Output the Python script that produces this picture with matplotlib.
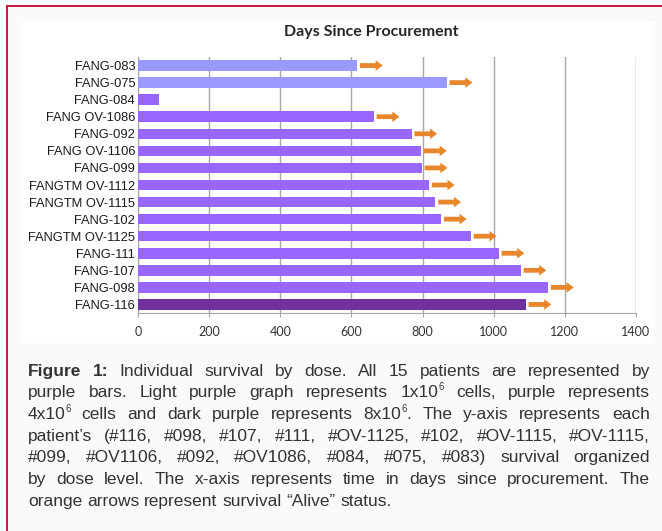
import matplotlib.pyplot as plt
from matplotlib.patches import Rectangle, FancyArrow
from matplotlib.lines import Line2D

# data, top row first
patients = ['FANG-083', 'FANG-075', 'FANG-084', 'FANG OV-1086', 'FANG-092',
            'FANG OV-1106', 'FANG-099', 'FANGTM OV-1112', 'FANGTM OV-1115',
            'FANG-102', 'FANGTM OV-1125', 'FANG-111', 'FANG-107', 'FANG-098',
            'FANG-116']
days = [616, 868, 58, 663, 769, 796, 798, 818, 836, 852, 936, 1014, 1076, 1153, 1090]
dose = ['1x', '1x', '4x', '4x', '4x', '4x', '4x', '4x', '4x', '4x', '4x', '4x',
        '4x', '4x', '8x']
alive = [True, True, False, True, True, True, True, True, True, True, True,
         True, True, True, True]
xticks = [0, 200, 400, 600, 800, 1000, 1200, 1400]

dose_colors = {'1x': '#9999FF', '4x': '#9966FF', '8x': '#7030A0'}

W, H = 662, 531
fig = plt.figure(figsize=(W / 100, H / 100), dpi=100)
fig.patch.set_facecolor('white')


def fx(px):
    return px / W


def fy(py):
    return 1 - py / H


# page frame and white chart panel
fig.add_artist(Rectangle((fx(7), 0), 1 - fx(7), fy(6), transform=fig.transFigure,
                         facecolor='#FCF9FA', edgecolor='none', zorder=-3))
fig.add_artist(Rectangle((fx(21), fy(343)), fx(655) - fx(21), fy(22) - fy(343),
                         transform=fig.transFigure, facecolor='white',
                         edgecolor='none', zorder=-2))
fig.add_artist(Line2D([fx(7), 1], [fy(6), fy(6)], transform=fig.transFigure,
                      color='#C8173C', lw=1.4))
fig.add_artist(Line2D([fx(7), fx(7)], [0, fy(6)], transform=fig.transFigure,
                      color='#C8173C', lw=1.4))

ax = fig.add_axes([fx(138), fy(313), fx(636) - fx(138), fy(57) - fy(313)])
ax.set_facecolor('none')
n = len(patients)
ypos = [n - 1 - i for i in range(n)]
ax.barh(ypos, days, height=0.62, color=[dose_colors[d] for d in dose], zorder=3)

for y, d, a in zip(ypos, days, alive):
    if a:
        ax.add_patch(FancyArrow(d + 8, y, 64, 0, width=0.28, head_width=0.62,
                                head_length=20, length_includes_head=True,
                                color='#E8862C', ec='none', zorder=4))

ax.set_xlim(0, 1400)
ax.set_ylim(-0.5, n - 0.5)
ax.set_xticks(xticks)
ax.set_yticks(ypos)
ax.set_yticklabels(patients, fontsize=9.3, family='Liberation Sans', color='#1a1a1a')
ax.set_xticklabels([str(t) for t in xticks], fontsize=9, family='Lato', color='#333333')
ax.grid(axis='x', color='#A6A6A6', lw=1, zorder=1)
ax.tick_params(axis='y', length=0, pad=2)
ax.tick_params(axis='x', length=3, color='#A6A6A6', pad=6)
for s in ['top', 'right']:
    ax.spines[s].set_visible(False)
ax.spines['left'].set_color('#A6A6A6')
ax.spines['bottom'].set_color('#A6A6A6')

fig.text(fx(371), fy(32), 'Days Since Procurement', ha='center', va='center',
         fontsize=11.5, fontweight='bold', family='Lato', color='#262626')

# caption, justified line by line
cap_font = ['Liberation Sans Narrow', 'Liberation Sans', 'DejaVu Sans']
cap_size = 12.5
cap_color = '#333333'
left, right = 28, 650
baselines = [376, 397, 419, 441, 462, 484, 506]
caption_lines = [
    [[('Figure', 'bold')], [('1:', 'bold')], 'Individual', 'survival', 'by', 'dose.',
     'All', '15', 'patients', 'are', 'represented', 'by'],
    ['purple', 'bars.', 'Light', 'purple', 'graph', 'represents',
     [('1x10', 'n'), ('6', 'sup')], 'cells,', 'purple', 'represents'],
    [[('4x10', 'n'), ('6', 'sup')], 'cells', 'and', 'dark', 'purple', 'represents',
     [('8x10', 'n'), ('6', 'sup'), ('.', 'n')], 'The', 'y-axis', 'represents', 'each'],
    ['patient\u2019s', '(#116,', '#098,', '#107,', '#111,', '#OV-1125,', '#102,',
     '#OV-1115,', '#OV-1115,'],
    ['#099,', '#OV1106,', '#092,', '#OV1086,', '#084,', '#075,', '#083)', 'survival',
     'organized'],
    ['by', 'dose', 'level.', 'The', 'x-axis', 'represents', 'time', 'in', 'days',
     'since', 'procurement.', 'The'],
    ['orange', 'arrows', 'represent', 'survival', '\u201cAlive\u201d', 'status.'],
]

renderer = fig.canvas.get_renderer()


def seg_props(kind):
    if kind == 'bold':
        return dict(fontsize=cap_size, fontweight='bold', dy=0)
    if kind == 'sup':
        return dict(fontsize=cap_size * 0.55, fontweight='normal', dy=-7)
    return dict(fontsize=cap_size, fontweight='normal', dy=0)


def seg_width(text, kind):
    p = seg_props(kind)
    t = fig.text(0, 0, text, fontsize=p['fontsize'], fontweight=p['fontweight'],
                 family=cap_font)
    w = t.get_window_extent(renderer).width
    t.remove()
    return w


space_w = seg_width('a a', 'n') - seg_width('aa', 'n')

for li, (words, y) in enumerate(zip(caption_lines, baselines)):
    segs = [w if isinstance(w, list) else [(w, 'n')] for w in words]
    widths = [sum(seg_width(t, k) for t, k in s) for s in segs]
    last = li == len(caption_lines) - 1
    gap = space_w if last else (right - left - sum(widths)) / (len(segs) - 1)
    x = left
    for s, w in zip(segs, widths):
        sx = x
        for t, k in s:
            p = seg_props(k)
            fig.text(fx(sx), fy(y + p['dy']), t, fontsize=p['fontsize'],
                     fontweight=p['fontweight'], family=cap_font, color=cap_color,
                     ha='left', va='baseline')
            sx += seg_width(t, k)
        x += w + gap

fig.savefig('out.png', dpi=100)
